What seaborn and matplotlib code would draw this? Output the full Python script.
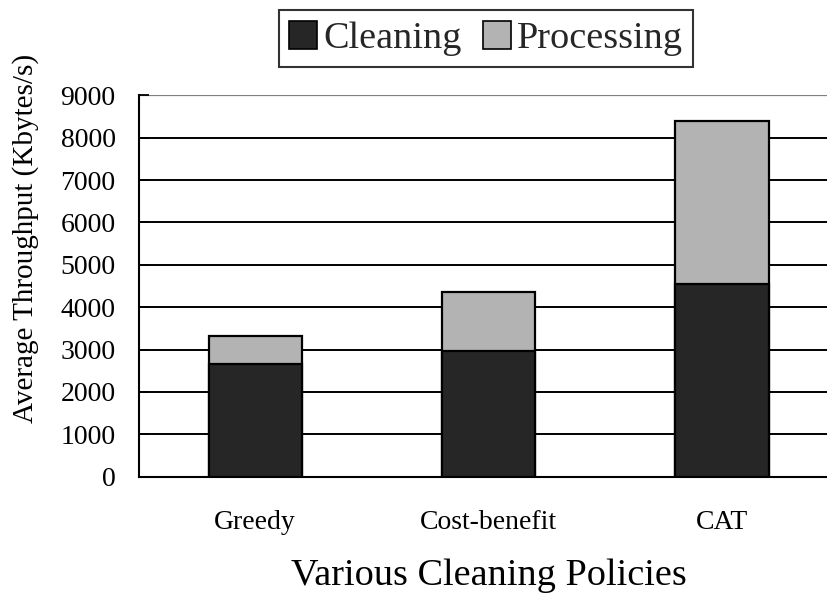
import matplotlib
matplotlib.use("Agg")
import matplotlib.pyplot as plt
import seaborn as sns
import pandas as pd
from matplotlib.patches import Patch

# Throughput per cleaning policy (Kbytes/s)
policies = ["Greedy", "Cost-benefit", "CAT"]
cleaning = [2650, 2970, 4540]
processing = [670, 1390, 3860]
y_ticks = [0, 1000, 2000, 3000, 4000, 5000, 6000, 7000, 8000, 9000]

df = pd.DataFrame({"policy": policies, "cleaning": cleaning, "processing": processing})
df["total"] = df["cleaning"] + df["processing"]

sns.set_theme(style="white")
plt.rcParams["font.family"] = ["Liberation Serif", "DejaVu Serif"]

dark = "#262626"
light = "#b3b3b3"

fig = plt.figure(figsize=(8.28, 5.95), dpi=100)
ax = fig.add_axes([0.1673, 0.1988, 0.8454, 0.641])

# stacked bars: full height in light grey, cleaning part drawn over it
sns.barplot(data=df, x="policy", y="total", order=policies, color=light,
            width=0.4, edgecolor="black", linewidth=1.6, saturation=1, ax=ax, zorder=3)
sns.barplot(data=df, x="policy", y="cleaning", order=policies, color=dark,
            width=0.4, edgecolor="black", linewidth=1.6, saturation=1, ax=ax, zorder=4)

ax.set_xlim(-0.5, 2.5)
ax.set_ylim(0, 9000)
ax.set_yticks(y_ticks)
ax.set_yticklabels([str(v) for v in y_ticks])

ax.yaxis.grid(True, color="black", linewidth=1.4, zorder=0)
top_line = ax.get_ygridlines()[-1]
top_line.set_color("#7f7f7f")
top_line.set_linewidth(1.6)
ax.set_axisbelow(True)

for side in ("top", "right"):
    ax.spines[side].set_visible(False)
for side in ("left", "bottom"):
    ax.spines[side].set_color("black")
    ax.spines[side].set_linewidth(1.5)

# category boundary ticks on the x axis
ax.set_xticks([0.5, 1.5], minor=True)
ax.tick_params(axis="x", which="minor", direction="in", length=8, width=1.3, color="black")
ax.tick_params(axis="x", which="major", length=0, pad=24, labelsize=20, labelcolor="black")
ax.tick_params(axis="y", direction="in", length=7, width=1.3, color="black",
               pad=16.5, labelsize=20, labelcolor="black", left=True)

ax.set_xlabel("Various Cleaning Policies", fontsize=27.5, color="black")
ax.xaxis.set_label_coords(0.5, -0.214)
ax.set_ylabel("Average Throughput (Kbytes/s)", fontsize=21, color="black")
ax.yaxis.set_label_coords(-0.142, 0.626)

handles = [Patch(facecolor=dark, edgecolor="black", linewidth=1.2, label="Cleaning"),
           Patch(facecolor=light, edgecolor="black", linewidth=1.2, label="Processing")]
leg = fig.legend(handles=handles, loc="center", bbox_to_anchor=(486 / 828, 1 - 38.5 / 595),
                 ncol=2, fontsize=27.5, frameon=True, fancybox=False, handlelength=0.73,
                 handleheight=0.75, handletextpad=0.15, columnspacing=0.57, borderpad=0.28,
                 borderaxespad=0)
leg.get_frame().set_edgecolor("black")
leg.get_frame().set_linewidth(1.5)

fig.savefig("out.png", dpi=100, facecolor="white")
